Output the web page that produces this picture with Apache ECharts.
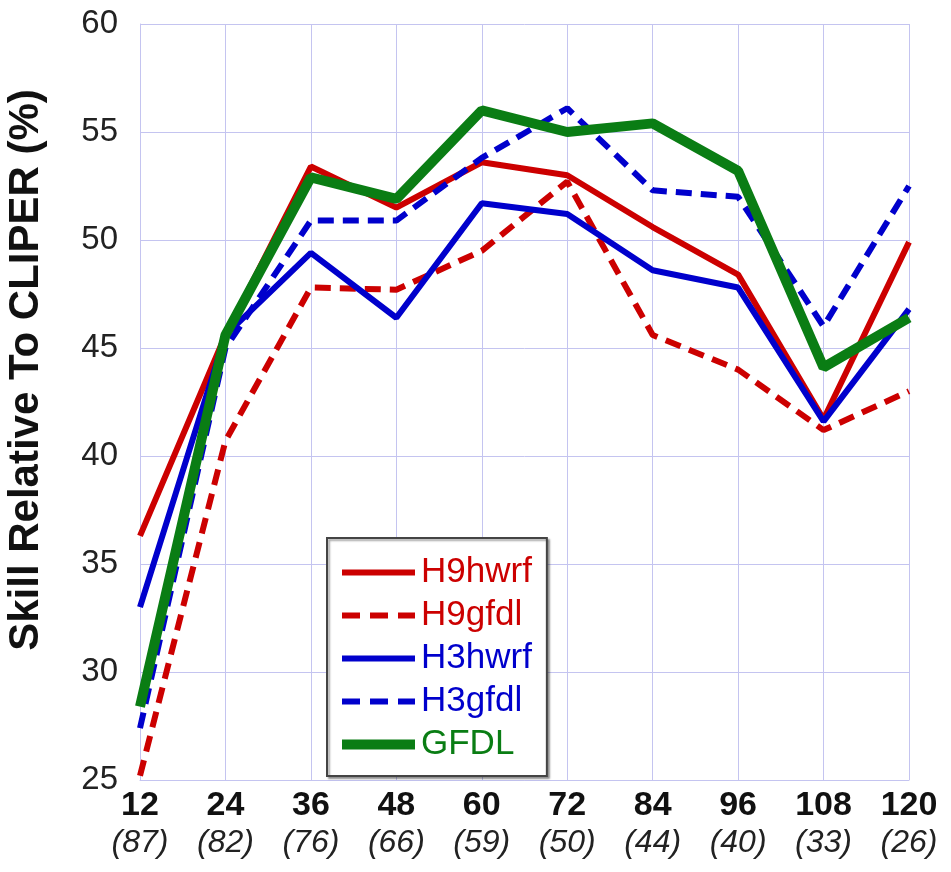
<!DOCTYPE html>
<html>
<head>
<meta charset="utf-8">
<script src="https://cdn.jsdelivr.net/npm/echarts@6/dist/echarts.min.js"></script>
<style>
  html, body { margin: 0; padding: 0; background: #fff; }
  #chart { width: 951px; height: 872px; }
</style>
</head>
<body>
<div id="chart"></div>
<script>
// forecast hours and number of cases
const hours = [12, 24, 36, 48, 60, 72, 84, 96, 108, 120];
const cases = [87, 82, 76, 66, 59, 50, 44, 40, 33, 26];

// skill relative to CLIPER (%)
const h9hwrf = [36.3, 45.6, 53.4, 51.5, 53.6, 53.0, 50.6, 48.4, 41.7, 49.9];
const h9gfdl = [25.2, 40.7, 47.8, 47.7, 49.5, 52.7, 45.6, 44.0, 41.2, 43.0];
const h3hwrf = [33.0, 45.6, 49.4, 46.4, 51.7, 51.2, 48.6, 47.8, 41.6, 46.8];
const h3gfdl = [27.4, 45.0, 50.9, 50.9, 53.8, 56.1, 52.3, 52.0, 46.0, 52.5];
const gfdl   = [28.4, 45.6, 52.9, 51.9, 56.0, 55.0, 55.4, 53.2, 44.1, 46.4];

const RED = '#cc0000', BLUE = '#0000cc', GREEN = '#0a7d14';
const FONT = '"Liberation Sans", Arial, sans-serif';

// legend icons: 73x20 box, tiny corner dots fix the bounding box
const CORNERS = 'M0,0h0.01v0.01h-0.01z M72.99,19.99h0.01v0.01h-0.01z ';
function solidIcon(w) {
  const y = 10 - w / 2;
  return 'path://' + CORNERS + 'M0,' + y + 'h73v' + w + 'h-73z';
}
function dashIcon(w) {
  const y = 10 - w / 2;
  return 'path://' + CORNERS +
    'M0,' + y + 'h18v' + w + 'h-18z ' +
    'M28,' + y + 'h18v' + w + 'h-18z ' +
    'M56,' + y + 'h17v' + w + 'h-17z';
}

function pairs(vals) {
  return hours.map((h, i) => [h, vals[i]]);
}

function mk(name, vals, color, width, dashed) {
  return {
    name: name,
    type: 'line',
    data: pairs(vals),
    symbol: 'none',
    z: name === 'GFDL' ? 5 : 3,
    lineStyle: {
      color: color,
      width: width,
      type: dashed ? [16, 9] : 'solid',
      cap: 'butt'
    },
    itemStyle: { color: color },
    animation: false
  };
}

const chart = echarts.init(document.getElementById('chart'));
const gridColor = '#c4c4f0';

chart.setOption({
  backgroundColor: '#fff',
  textStyle: { fontFamily: FONT },
  grid: { left: 140, right: 42, top: 24, bottom: 92, containLabel: false, outerBoundsMode: 'none' },
  legend: {
    orient: 'vertical',
    left: 327,
    top: 538,
    padding: [17, 15, 14, 15],
    itemWidth: 73,
    itemHeight: 20,
    itemGap: 8,
    borderColor: '#444',
    borderWidth: 2,
    backgroundColor: '#fff',
    shadowColor: 'rgba(0,0,0,0.35)',
    shadowBlur: 2,
    shadowOffsetX: 2,
    shadowOffsetY: 2,
    itemStyle: { borderWidth: 0 },
    lineStyle: { width: 0 },
    textStyle: { fontSize: 35, lineHeight: 34, fontFamily: FONT, padding: [0, 0, 0, 1] },
    data: [
      { name: 'H9hwrf', icon: solidIcon(6), textStyle: { color: RED } },
      { name: 'H9gfdl', icon: dashIcon(6), textStyle: { color: RED } },
      { name: 'H3hwrf', icon: solidIcon(6), textStyle: { color: BLUE } },
      { name: 'H3gfdl', icon: dashIcon(6), textStyle: { color: BLUE } },
      { name: 'GFDL', icon: solidIcon(10), textStyle: { color: GREEN } }
    ]
  },
  xAxis: {
    type: 'value',
    min: 12,
    max: 120,
    interval: 12,
    axisLine: { show: true, lineStyle: { color: gridColor, width: 1 } },
    axisTick: { show: false },
    splitLine: { show: true, lineStyle: { color: gridColor, width: 1 } },
    axisLabel: {
      margin: 7,
      formatter: function (v) {
        const i = hours.indexOf(v);
        return '{a|' + v + '}\n{b|(' + cases[i] + ')}';
      },
      rich: {
        a: { fontSize: 34, fontWeight: 'bold', color: '#111', lineHeight: 38, fontFamily: FONT },
        b: { fontSize: 32, fontStyle: 'italic', color: '#222', lineHeight: 36, fontFamily: FONT }
      }
    }
  },
  yAxis: {
    type: 'value',
    min: 25,
    max: 60,
    interval: 5,
    name: 'Skill Relative To CLIPER (%)',
    nameLocation: 'middle',
    nameGap: 93,
    nameRotate: 90,
    nameTextStyle: {
      fontSize: 42,
      fontWeight: 'bold',
      color: '#111',
      fontFamily: FONT,
      padding: [0, 0, 0, 64]
    },
    axisLine: { show: true, lineStyle: { color: gridColor, width: 1 } },
    axisTick: { show: false },
    splitLine: { show: true, lineStyle: { color: gridColor, width: 1 } },
    axisLabel: {
      margin: 22,
      fontSize: 33,
      color: '#222',
      fontFamily: FONT,
      padding: [0, 0, 16, 0]
    }
  },
  series: [
    mk('H9hwrf', h9hwrf, RED, 6, false),
    mk('H9gfdl', h9gfdl, RED, 6, true),
    mk('H3hwrf', h3hwrf, BLUE, 6, false),
    mk('H3gfdl', h3gfdl, BLUE, 6, true),
    mk('GFDL', gfdl, GREEN, 10, false)
  ]
});
</script>
</body>
</html>
